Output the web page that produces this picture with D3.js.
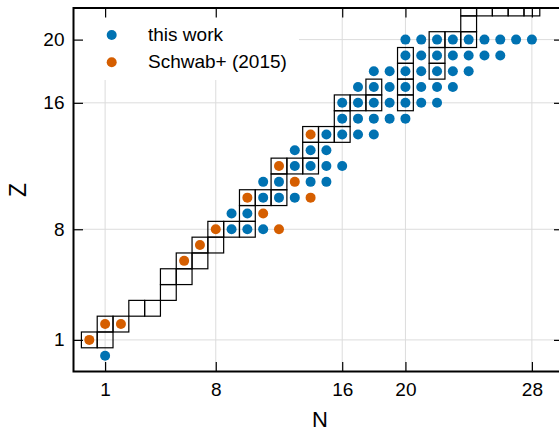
<!DOCTYPE html>
<html>
<head>
<meta charset="utf-8">
<script src="https://cdn.jsdelivr.net/npm/d3@7"></script>
<style>
  html, body { margin: 0; padding: 0; background: #fff; }
  svg { display: block; font-family: "Liberation Sans", Arial, Helvetica, sans-serif; }
</style>
</head>
<body>
<svg id="chart" width="559" height="431"></svg>
<script>
// Stable nuclides drawn as open squares, [N, Z]
const stable = [
  [0,1],[1,1],
  [1,2],[2,2],
  [3,3],[4,3],
  [5,4],
  [5,5],[6,5],
  [6,6],[7,6],
  [7,7],[8,7],
  [8,8],[9,8],[10,8],
  [10,9],
  [10,10],[11,10],[12,10],
  [12,11],
  [12,12],[13,12],[14,12],
  [14,13],
  [14,14],[15,14],[16,14],
  [16,15],
  [16,16],[17,16],[18,16],[20,16],
  [18,17],[20,17],
  [20,18],[22,18],
  [20,19],[22,19],
  [22,20],[23,20],[24,20],
  [24,21],
  [24,22],[25,22],[26,22],[27,22],[28,22]
];

// Nuclei computed in this work, [N, Z]
const thisWork = [
  [1,0],
  [9,8],[10,8],[11,8],
  [9,9],[10,9],
  [11,10],[12,10],[13,10],
  [11,11],[12,11],[14,11],[15,11],
  [13,12],[14,12],[15,12],[16,12],
  [13,13],[14,13],[15,13],
  [15,14],[16,14],[17,14],[18,14],
  [16,15],[17,15],[18,15],[19,15],[20,15],
  [16,16],[17,16],[18,16],[19,16],[20,16],[21,16],[22,16],
  [17,17],[18,17],[19,17],[20,17],[21,17],[22,17],[23,17],
  [18,18],[19,18],[20,18],[21,18],[22,18],[23,18],[24,18],
  [20,19],[21,19],[22,19],[23,19],[24,19],[25,19],[26,19],
  [20,20],[21,20],[22,20],[23,20],[24,20],[25,20],[26,20],[27,20],[28,20]
];

// Nuclei from Schwab+ (2015), [N, Z]
const schwab = [
  [0,1],[1,2],[2,2],[6,6],[7,7],[8,8],[12,8],
  [11,9],[10,10],[14,10],[13,11],[12,12],[14,14]
];

const xTicks = [1, 8, 16, 20, 28];
const yTicks = [1, 8, 16, 20];
const seriesNames = ["this work", "Schwab+ (2015)"];
const seriesColors = ["#0072B2", "#D55E00"];

const svg = d3.select("#chart");
const pLeft = 73.5, pRight = 563.5, pTop = 8, pBottom = 371.5;

const x = d3.scaleLinear().domain([-1, 30]).range([pLeft, pRight]);
const y = d3.scaleLinear().domain([-1, 22]).range([pBottom, pTop]);
const unitX = x(1) - x(0);
const unitY = y(0) - y(1);

svg.append("defs").append("clipPath").attr("id", "plotClip")
  .append("rect").attr("x", pLeft).attr("y", pTop)
  .attr("width", pRight - pLeft).attr("height", pBottom - pTop);

const plot = svg.append("g").attr("clip-path", "url(#plotClip)");

// grid
plot.append("g").selectAll("line").data(xTicks).join("line")
  .attr("x1", d => x(d)).attr("x2", d => x(d))
  .attr("y1", pTop).attr("y2", pBottom)
  .attr("stroke", "#dcdcdc").attr("stroke-width", 1);
plot.append("g").selectAll("line").data(yTicks).join("line")
  .attr("y1", d => y(d)).attr("y2", d => y(d))
  .attr("x1", pLeft).attr("x2", pRight)
  .attr("stroke", "#dcdcdc").attr("stroke-width", 1);

// legend background hides grid behind it
plot.append("rect")
  .attr("x", pLeft).attr("y", pTop)
  .attr("width", 299 - pLeft).attr("height", 80 - pTop)
  .attr("fill", "#fff");

// stable squares
plot.append("g").selectAll("rect").data(stable).join("rect")
  .attr("x", d => x(d[0] - 0.5))
  .attr("y", d => y(d[1] + 0.5))
  .attr("width", unitX)
  .attr("height", unitY)
  .attr("fill", "none")
  .attr("stroke", "#000")
  .attr("stroke-width", 1.2);

// markers
[thisWork, schwab].forEach((pts, i) => {
  plot.append("g").selectAll("circle").data(pts).join("circle")
    .attr("cx", d => x(d[0]))
    .attr("cy", d => y(d[1]))
    .attr("r", 5)
    .attr("fill", seriesColors[i]);
});

// legend
const legend = svg.append("g");
seriesNames.forEach((name, i) => {
  const ly = 35 + i * 27.3;
  legend.append("circle").attr("cx", 111.7).attr("cy", ly).attr("r", 5)
    .attr("fill", seriesColors[i]);
  legend.append("text").attr("x", 148).attr("y", ly + 5.8)
    .attr("font-size", 19).attr("fill", "#000").text(name);
});

// axes with inward ticks on all four sides
const tickLen = 9.5;
const ax = svg.append("g");
const gB = ax.append("g").attr("transform", `translate(0,${pBottom})`)
  .call(d3.axisBottom(x).tickValues(xTicks).tickSizeInner(-tickLen).tickSizeOuter(0).tickPadding(11));
const gT = ax.append("g").attr("transform", `translate(0,${pTop})`)
  .call(d3.axisTop(x).tickValues(xTicks).tickSizeInner(-tickLen).tickSizeOuter(0).tickFormat(""));
const gL = ax.append("g").attr("transform", `translate(${pLeft},0)`)
  .call(d3.axisLeft(y).tickValues(yTicks).tickSizeInner(-tickLen).tickSizeOuter(0).tickPadding(9));
const gR = ax.append("g").attr("transform", `translate(${pRight},0)`)
  .call(d3.axisRight(y).tickValues(yTicks).tickSizeInner(-tickLen).tickSizeOuter(0).tickFormat(""));

[gB, gT, gL, gR].forEach(g => {
  g.select(".domain").remove();
  g.selectAll(".tick line").attr("stroke", "#000").attr("stroke-width", 1.2);
  g.selectAll(".tick text").attr("font-size", 19).attr("fill", "#000")
    .attr("font-family", "'Liberation Sans', Arial, sans-serif");
});

// frame
svg.append("rect")
  .attr("x", pLeft).attr("y", pTop)
  .attr("width", pRight - pLeft).attr("height", pBottom - pTop)
  .attr("fill", "none").attr("stroke", "#000").attr("stroke-width", 2);

// axis titles
svg.append("text")
  .attr("x", 320).attr("y", 427)
  .attr("text-anchor", "middle").attr("font-size", 22).text("N");
svg.append("text")
  .attr("transform", `translate(26,190) rotate(-90)`)
  .attr("text-anchor", "middle").attr("font-size", 23).text("Z");
</script>
</body>
</html>
